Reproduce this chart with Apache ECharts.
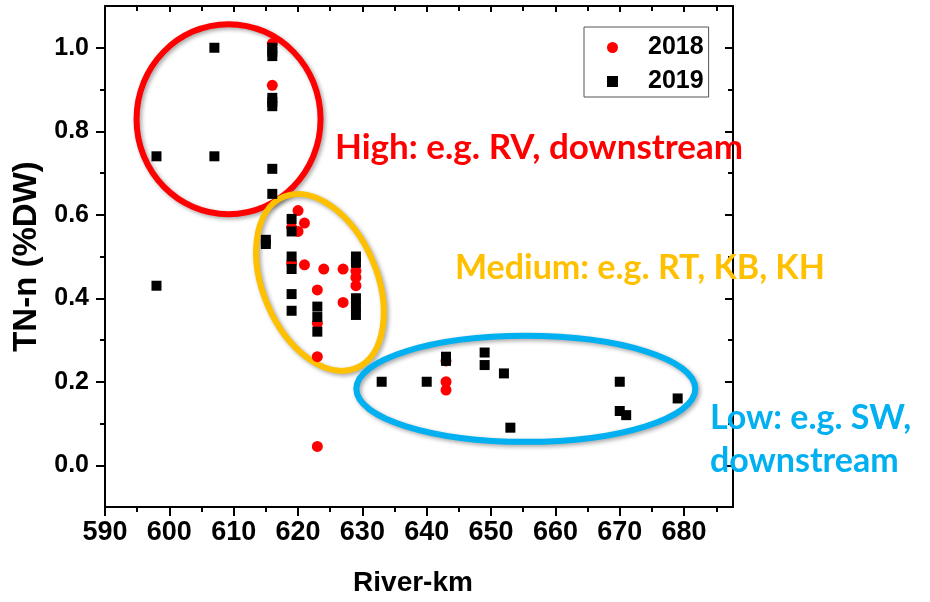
<!DOCTYPE html>
<html><head><meta charset="utf-8">
<script src="https://cdn.jsdelivr.net/npm/echarts@6/dist/echarts.min.js"></script>
<style>html,body{margin:0;padding:0;background:#fff}#c{width:930px;height:602px}</style>
</head><body><div id="c"></div><script>
// ---- data ----
const seriesNames = ['2018', '2019'];
const x2018 = [616, 616, 620, 621, 620, 619, 619, 621, 624, 627, 629, 629, 629, 623, 627, 623, 623, 623, 643, 643, 643];
const y2018 = [1.01, 0.91, 0.61, 0.58, 0.56, 0.57, 0.485, 0.48, 0.47, 0.47, 0.465, 0.45, 0.43, 0.42, 0.39, 0.34, 0.26, 0.045, 0.25, 0.20, 0.18];
const x2019 = [607, 616, 616, 616, 616, 616, 616, 598, 607, 616, 616, 619, 619, 615, 615, 619, 619, 629, 629, 619, 629, 629, 629, 619, 623, 623, 623, 598, 633, 640, 643, 643, 649, 649, 652, 653, 670, 670, 671, 679];
const y2019 = [1.00, 1.00, 0.99, 0.98, 0.88, 0.87, 0.86, 0.74, 0.74, 0.71, 0.65, 0.59, 0.56, 0.54, 0.53, 0.50, 0.47, 0.50, 0.485, 0.41, 0.40, 0.38, 0.36, 0.37, 0.38, 0.355, 0.32, 0.43, 0.20, 0.20, 0.26, 0.25, 0.27, 0.24, 0.22, 0.09, 0.20, 0.13, 0.12, 0.16];
const xMajorTicks = [590, 600, 610, 620, 630, 640, 650, 660, 670, 680];
const xMinorTicks = [595, 605, 615, 625, 635, 645, 655, 665, 675, 685];
const yMajorTicks = [0.0, 0.2, 0.4, 0.6, 0.8, 1.0];
const yMinorTicks = [0.1, 0.3, 0.5, 0.7, 0.9];
const xTitle = 'River-km';
const yTitle = 'TN-n (%DW)';
const notes = ['High: e.g. RV, downstream', 'Medium: e.g. RT, KB, KH', 'Low: e.g. SW,', 'downstream'];

// ---- chart ----
const X_MIN = 590, X_MAX = 687.6, Y_MIN = -0.1, Y_MAX = 1.1;
const chart = echarts.init(document.getElementById('c'), null, {renderer: 'canvas'});
const black = {color: '#000', width: 2};
const tickFont = {fontFamily: '"Liberation Sans", Arial, sans-serif', fontWeight: 'bold', color: '#000'};
function xa(pos, show, ticks, len, inside, extra) {
  return Object.assign({
    type: 'value', min: X_MIN, max: X_MAX, position: pos, splitLine: {show: false},
    axisLine: {show: show, onZero: false, lineStyle: black},
    axisTick: {show: true, inside: inside, length: len, customValues: ticks, lineStyle: black},
    axisLabel: {show: false}
  }, extra || {});
}
function ya(pos, show, ticks, len, inside, extra) {
  return Object.assign({
    type: 'value', min: Y_MIN, max: Y_MAX, position: pos, splitLine: {show: false},
    axisLine: {show: show, onZero: false, lineStyle: black},
    axisTick: {show: true, inside: inside, length: len, customValues: ticks, lineStyle: black},
    axisLabel: {show: false}
  }, extra || {});
}
const option = {
  animation: false,
  backgroundColor: '#fff',
  grid: {left: 105, right: 197, top: 6, bottom: 90, containLabel: false},
  xAxis: [
    xa('bottom', true, xMajorTicks, 9, false, {
      axisLabel: {show: true, customValues: xMajorTicks, margin: 12, fontSize: 27,
        fontFamily: '"Liberation Sans Narrow", "Arial Narrow", "Liberation Sans", Arial, sans-serif',
        fontWeight: 'bold', color: '#000'},
      name: xTitle, nameLocation: 'middle', nameGap: 62,
      nameTextStyle: Object.assign({fontSize: 28, padding: [0, 12, 0, 0]}, tickFont)
    }),
    xa('bottom', false, xMinorTicks, 5, false),
    xa('top', true, xMajorTicks, 6, true),
    xa('top', false, xMinorTicks, 5, true)
  ],
  yAxis: [
    ya('left', true, yMajorTicks, 9, false, {
      axisLabel: Object.assign({show: true, customValues: yMajorTicks, margin: 16, fontSize: 25,
        formatter: v => v.toFixed(1)}, tickFont),
      name: yTitle, nameLocation: 'middle', nameGap: 55, nameRotate: 90,
      nameTextStyle: Object.assign({fontSize: 33}, tickFont)
    }),
    ya('left', false, yMinorTicks, 5, false),
    ya('right', true, yMajorTicks, 8, true),
    ya('right', false, yMinorTicks, 5, true)
  ],
  legend: {
    orient: 'vertical', left: 584, top: 27, padding: [8, 5, 3, 23],
    itemWidth: 11, itemHeight: 11, itemGap: 9,
    borderColor: '#555', borderWidth: 1, backgroundColor: '#fff',
    textStyle: Object.assign({fontSize: 25, lineHeight: 24, padding: [0, 0, 0, 25]}, tickFont),
    data: [{name: seriesNames[0], icon: 'circle'}, {name: seriesNames[1], icon: 'rect'}]
  },
  series: [
    {name: seriesNames[0], type: 'scatter', symbol: 'circle', symbolSize: 11, z: 5,
      itemStyle: {color: '#ff0000', opacity: 1}, emphasis: {disabled: true},
      data: x2018.map((x, i) => [x, y2018[i]])},
    {name: seriesNames[1], type: 'scatter', symbol: 'rect', symbolSize: 10, z: 6,
      itemStyle: {color: '#000000', opacity: 1}, emphasis: {disabled: true},
      data: x2019.map((x, i) => [x, y2019[i]])}
  ]
};
chart.setOption(option);

// ---- annotations (ellipses & texts) ----
function toPx(x, y) { return chart.convertToPixel({xAxisIndex: 0, yAxisIndex: 0}, [x, y]); }
const shadow = {shadowBlur: 4, shadowColor: 'rgba(0,0,0,0.35)', shadowOffsetX: 2, shadowOffsetY: 2};
function ring(cx, cy, rx, ry, rotDeg, color) {
  const p = toPx(cx, cy);
  return {type: 'ellipse', x: p[0], y: p[1], rotation: rotDeg * Math.PI / 180, z: 1,
    shape: {cx: 0, cy: 0, rx: rx, ry: ry},
    style: Object.assign({fill: null, stroke: color, lineWidth: 6}, shadow), silent: true};
}
function note(text, x, y, color, size) {
  return {type: 'text', x: x, y: y, z: 10, silent: true,
    style: {text: text, fill: color, font: 'bold ' + size + 'px Lato, "Open Sans", sans-serif', align: 'left', verticalAlign: 'middle'}};
}
chart.setOption({graphic: [
  ring(609.2, 0.829, 92, 95, 0, '#ff0000'),
  ring(623.4, 0.438, 57, 93, 23, '#ffc000'),
  ring(655.4, 0.183, 169.5, 53, 0, '#00b0f0'),
  note(notes[0], 335, 148, '#ff0000', 35),
  note(notes[1], 455, 268, '#ffc000', 34),
  note(notes[2], 710, 418, '#00b0f0', 34),
  note(notes[3], 710, 461, '#00b0f0', 34)
]});
</script></body></html>
